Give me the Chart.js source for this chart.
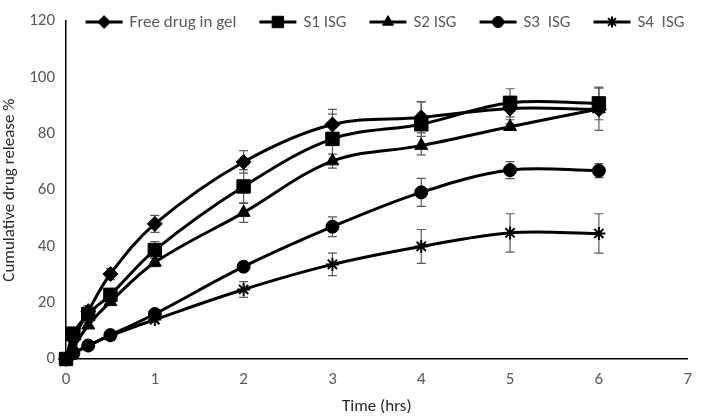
<!DOCTYPE html>
<html>
<head>
<meta charset="utf-8">
<script src="https://cdn.jsdelivr.net/npm/chart.js@4.4.1/dist/chart.umd.min.js"></script>
<style>
  html, body { margin: 0; padding: 0; background: #fff; }
  #wrap { width: 703px; height: 419px; position: relative; }
</style>
</head>
<body>
<div id="wrap"><canvas id="releaseChart"></canvas></div>
<script>
// Sampling times (hrs)
const times = [0, 0.083, 0.25, 0.5, 1, 2, 3, 4, 5, 6];

// Cumulative release (%) per formulation
const freeDrug = [0, 7, 17, 30.2, 48, 70, 83.3, 85.8, 89, 88.7];
const s1 = [0, 9, 16, 22.8, 38.7, 61.3, 78.2, 83.4, 91, 90.8];
const s2 = [0, 4, 12, 20.3, 34.3, 52, 70.3, 75.8, 82.5, 88.8];
const s3 = [0, 2, 4.8, 8.5, 16, 32.8, 47, 59.2, 67.1, 66.9];
const s4 = [0, 2, 4.7, 8.3, 14, 24.7, 33.6, 40, 44.8, 44.6];

// Standard deviations
const freeErr = [0, 1, 2, 2, 3, 4, 5.4, 5.5, 4, 7.5];
const s1Err = [0, 1, 3, 1.5, 3, 6, 8.8, 8, 5, 5.8];
const s2Err = [0, 1, 1, 1, 1.5, 3.5, 2.5, 3.3, 1, 1];
const s3Err = [0, 0.5, 0.5, 0.5, 1, 0.5, 3.5, 5, 3, 2.5];
const s4Err = [0, 0.5, 0.5, 0.5, 0.5, 2.8, 4, 6, 6.8, 7];

const seriesNames = ['Free drug in gel', 'S1 ISG', 'S2 ISG', 'S3  ISG', 'S4  ISG'];
const seriesValues = [freeDrug, s1, s2, s3, s4];
const seriesErrors = [freeErr, s1Err, s2Err, s3Err, s4Err];
const markerStyles = ['rectRot', 'rect', 'triangle', 'circle', 'star'];
const markerSizes = [7.5, 9.5, 7.5, 6.5, 6.5];

const yTicks = [0, 20, 40, 60, 80, 100, 120];
const xTicks = [0, 1, 2, 3, 4, 5, 6, 7];

const FONT = "'Carlito', 'Open Sans', sans-serif";

// Draws the error bars behind the markers
const errorBars = {
    id: 'errorBars',
    beforeDatasetsDraw(chart) {
        const ctx = chart.ctx;
        const xs = chart.scales.x, ys = chart.scales.y;
        ctx.save();
        ctx.strokeStyle = '#595959';
        ctx.lineWidth = 1.2;
        chart.data.datasets.forEach(function(ds) {
            ds.data.forEach(function(p, i) {
                const e = ds.errors[i];
                if (!e) return;
                const x = xs.getPixelForValue(p.x);
                const top = ys.getPixelForValue(p.y + e);
                const bot = ys.getPixelForValue(p.y - e);
                ctx.beginPath();
                ctx.moveTo(x, top); ctx.lineTo(x, bot);
                ctx.moveTo(x - 4.5, top); ctx.lineTo(x + 4.5, top);
                ctx.moveTo(x - 4.5, bot); ctx.lineTo(x + 4.5, bot);
                ctx.stroke();
            });
        });
        ctx.restore();
    }
};

// Excel-like legend: line sample with marker, then label
const lineLegend = {
    id: 'lineLegend',
    afterDraw(chart) {
        const ctx = chart.ctx;
        const y = 22;
        const sample = 37, gapText = 7, gapItem = 23;
        ctx.save();
        ctx.font = '17px ' + FONT;
        let total = 0;
        const widths = chart.data.datasets.map(function(ds) {
            return ctx.measureText(ds.label).width;
        });
        widths.forEach(function(w) { total += sample + gapText + w; });
        total += gapItem * (widths.length - 1);
        let x = 385 - total / 2;
        chart.data.datasets.forEach(function(ds, i) {
            ctx.strokeStyle = '#000';
            ctx.lineWidth = 3;
            ctx.beginPath();
            ctx.moveTo(x, y); ctx.lineTo(x + sample, y);
            ctx.stroke();
            ctx.fillStyle = '#000';
            ctx.lineWidth = ds.pointStyle === 'star' ? 2 : 1;
            Chart.helpers.drawPoint(ctx, {
                pointStyle: ds.pointStyle,
                radius: ds.pointRadius * 0.85,
                rotation: 0,
                borderWidth: ctx.lineWidth
            }, x + sample / 2, y);
            ctx.fillStyle = '#595959';
            ctx.textBaseline = 'middle';
            ctx.fillText(ds.label, x + sample + gapText, y + 1);
            x += sample + gapText + widths[i] + gapItem;
        });
        ctx.restore();
    }
};

const datasets = seriesNames.map(function(name, k) {
    return {
        label: name,
        data: times.map(function(t, i) { return { x: t, y: seriesValues[k][i] }; }),
        errors: seriesErrors[k],
        borderColor: '#000',
        backgroundColor: '#000',
        borderWidth: 3,
        tension: 0.35,
        clip: false,
        pointStyle: markerStyles[k],
        pointRadius: markerSizes[k],
        pointHoverRadius: markerSizes[k],
        pointBackgroundColor: '#000',
        pointBorderColor: '#000',
        pointBorderWidth: markerStyles[k] === 'star' ? 2 : 1
    };
});

new Chart(document.getElementById('releaseChart'), {
    type: 'line',
    data: { datasets: datasets },
    options: {
        responsive: true,
        maintainAspectRatio: false,
        animation: false,
        layout: { padding: { top: 8, right: 5, bottom: 0, left: 0 } },
        plugins: {
            legend: { display: false },
            tooltip: { enabled: false }
        },
        scales: {
            x: {
                type: 'linear',
                min: 0,
                max: 7,
                afterBuildTicks: function(scale) {
                    scale.ticks = xTicks.map(function(v) { return { value: v }; });
                },
                grid: { display: false, drawTicks: false },
                border: { display: true, color: '#000', width: 1.5 },
                ticks: { color: '#595959', font: { family: FONT, size: 17 }, padding: 11 },
                title: {
                    display: true,
                    text: 'Time (hrs)',
                    color: '#262626',
                    font: { family: FONT, size: 17 },
                    padding: { top: 3, bottom: 2 }
                },
                afterFit: function(scale) { scale.height = 60; }
            },
            y: {
                min: 0,
                max: 120,
                afterBuildTicks: function(scale) {
                    scale.ticks = yTicks.map(function(v) { return { value: v }; });
                },
                grid: { display: false, drawTicks: false },
                border: { display: true, color: '#000', width: 1.5 },
                ticks: { color: '#595959', font: { family: FONT, size: 17 }, padding: 11 },
                title: {
                    display: true,
                    text: 'Cumulative drug release %',
                    color: '#262626',
                    font: { family: FONT, size: 17 },
                    padding: { top: 0, bottom: 2 }
                },
                afterFit: function(scale) { scale.width = 66; }
            }
        }
    },
    plugins: [errorBars, lineLegend]
});
</script>
</body>
</html>
